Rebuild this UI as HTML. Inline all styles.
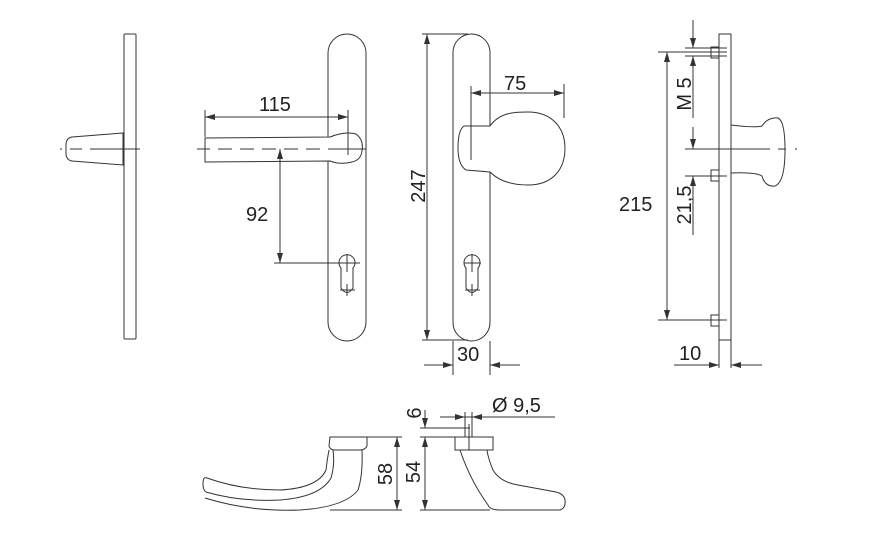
<!DOCTYPE html>
<html><head><meta charset="utf-8"><style>
html,body{margin:0;padding:0;background:#fff;}
svg{display:block;}
text{font-family:"Liberation Sans",sans-serif;font-size:20px;fill:#222;}
</style></head><body>
<svg width="869" height="557" viewBox="0 0 869 557" xmlns="http://www.w3.org/2000/svg">
<defs>
<marker id="a" viewBox="0 0 10 6" refX="10" refY="3" markerWidth="10" markerHeight="6" orient="auto-start-reverse" markerUnits="userSpaceOnUse"><path d="M0,0L10,3L0,6z" fill="#333"/></marker>
</defs>
<g fill="none" stroke="#333" stroke-width="1">
<rect x="124" y="34" width="12" height="305" rx="1"/>
<path d="M123,133 L72,137 Q66,138 66,145 L66,153 Q66,160 72,161 L123,165 Z"/>
<path d="M60,149 H62 M70,149 H82 M90,149 H140"/>

<rect x="328" y="34" width="38" height="307" rx="19"/>
<path d="M205,138 L330,137 Q345,131 356,134 Q364,140 362,151 Q361,160 352,162 Q340,165 330,161 L205,162 Z" fill="#fff"/>
<path d="M197,149 H210 M218,149 H232 M240,149 H254 M262,149 H276 M284,149 H298 M306,149 H320 M328,149 H366" />
<path d="M205,110 V137 M348,110 V155"/>
<line x1="205" y1="117" x2="348" y2="117" marker-start="url(#a)" marker-end="url(#a)"/>
<line x1="280" y1="149" x2="280" y2="263" marker-start="url(#a)" marker-end="url(#a)"/>
<path d="M274,263 H360"/>
<path d="M341,268 A8,8 0 1 1 353,268 L353,288 Q347,297 341,288 Z"/>
<path d="M347,254 V272 M339,263 H356 M347,284 V296 M340,290 H355"/>

<rect x="453" y="34" width="37" height="307" rx="18.5"/>
<path d="M490,126 C500,112 515,112 528,112 C552,112 565,128 565,148 C565,170 552,185 528,185 C510,185 498,180 490,172 L466,170 Q458,165 458,148 Q458,130 464,126 Z" fill="#fff"/>
<path d="M471,86 V160 M564,84 V118"/>
<line x1="471" y1="93" x2="564" y2="93" marker-start="url(#a)" marker-end="url(#a)"/>
<path d="M422,34 H468 M422,340 H468"/>
<line x1="427" y1="34" x2="427" y2="340" marker-start="url(#a)" marker-end="url(#a)"/>
<path d="M453,341 V375 M490,341 V375"/>
<path d="M424,365 H453 M490,365 H520"/>
<line x1="440" y1="365" x2="453" y2="365" marker-end="url(#a)"/>
<line x1="503" y1="365" x2="490" y2="365" marker-end="url(#a)"/>
<path d="M466,268 A8,8 0 1 1 478,268 L478,288 Q472,297 466,288 Z"/>
<path d="M472,254 V272 M464,263 H481 M472,284 V296 M465,290 H480"/>

<rect x="719" y="34" width="12" height="306"/>
<path d="M719,340 V368 M731,340 V368"/>
<path d="M711,47 H719 V58 H711 Z M711,170 H719 V181 H711 Z M711,315 H719 V326 H711 Z"/>
<path d="M731,125 Q755,128 762,126 Q768,117 778,118 Q785,121 785,150 Q785,182 775,186 Q765,187 762,176 Q755,172 731,173"/>
<path d="M685,149 H770 M778,149 H786 M795,149 H797"/>
<path d="M658,52 H727 M658,320 H727 M685,48 H727 M685,56 H727 M685,176 H727"/>
<line x1="667" y1="52" x2="667" y2="320" marker-start="url(#a)" marker-end="url(#a)"/>
<line x1="693" y1="20" x2="693" y2="48" marker-end="url(#a)"/>
<line x1="693" y1="70" x2="693" y2="56" marker-end="url(#a)"/>
<path d="M693,70 V118 M693,127 V135"/>
<line x1="693" y1="135" x2="693" y2="149" marker-end="url(#a)"/>
<line x1="693" y1="190" x2="693" y2="176" marker-end="url(#a)"/>
<path d="M693,190 V235"/>
<path d="M674,365 H719 M731,365 H762"/>
<line x1="705" y1="365" x2="719" y2="365" marker-end="url(#a)"/>
<line x1="745" y1="365" x2="731" y2="365" marker-end="url(#a)"/>

<path d="M330,437 H367 V446 Q365,450 360,450 H335 Q330,450 329,446 Z"/>
<path d="M333,450 Q335,465 331,478 Q320,497 280,500 Q240,502 206,492 Q203,490 203,484 Q203,476 207,478 Q240,490 280,490 Q318,488 326,470 Q327,460 329,450"/>
<path d="M362,450 Q363,475 358,490 Q345,507 300,510 Q250,512 205,498"/>
<path d="M367,437 H402 M330,510 H402"/>
<line x1="397" y1="437" x2="397" y2="510" marker-start="url(#a)" marker-end="url(#a)"/>

<rect x="455" y="437" width="38" height="13"/>
<path d="M460,450 Q470,480 488,505 Q490,510 500,510 H560 Q566,508 565,500 Q564,494 556,492 L518,485 Q500,482 493,470 Q488,458 487,450"/>
<path d="M420,437 H455 M420,428 H470 M420,510 H490"/>
<line x1="425" y1="437" x2="425" y2="510" marker-start="url(#a)" marker-end="url(#a)"/>
<line x1="425" y1="410" x2="425" y2="428" marker-end="url(#a)"/>
<path d="M465,412 V437 M472,412 V437 M469,424 V450"/>
<path d="M440,417 H555"/>
<line x1="452" y1="417" x2="465" y2="417" marker-end="url(#a)"/>
<line x1="485" y1="417" x2="472" y2="417" marker-end="url(#a)"/>
</g>

<g>
<text x="259" y="111">115</text>
<text x="246" y="221">92</text>
<text x="504" y="90">75</text>
<text x="457" y="361">30</text>
<text x="679" y="360">10</text>
<text x="619" y="211">215</text>
<text transform="translate(425,186) rotate(-90)" text-anchor="middle">247</text>
<text transform="translate(691,94) rotate(-90)" text-anchor="middle">M 5</text>
<text transform="translate(691,205) rotate(-90)" text-anchor="middle">21,5</text>
<text transform="translate(392,474) rotate(-90)" text-anchor="middle">58</text>
<text transform="translate(420,472) rotate(-90)" text-anchor="middle">54</text>
<text transform="translate(421,413) rotate(-90)" text-anchor="middle">6</text>
<text x="492" y="412">Ø 9,5</text>
</g>
</svg>
</body></html>
